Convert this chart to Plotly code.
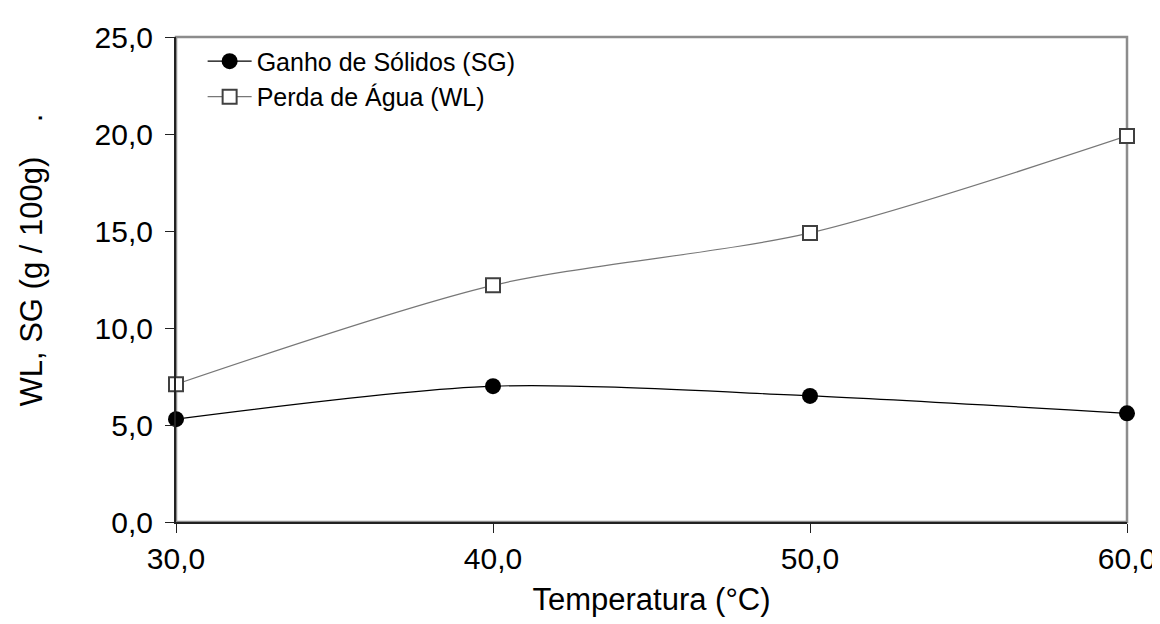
import plotly.graph_objects as go

# Temperaturas (°C) e respostas (g / 100g)
temperatura = [30, 40, 50, 60]
ganho_solidos = [5.3, 7.0, 6.5, 5.6]
perda_agua = [7.1, 12.2, 14.9, 19.9]

x_ticks = [30, 40, 50, 60]
y_ticks = [0, 5, 10, 15, 20, 25]

font_family = "Liberation Sans, Arial, sans-serif"

fig = go.Figure()

fig.add_trace(
    go.Scatter(
        x=temperatura,
        y=ganho_solidos,
        name="Ganho de Sólidos (SG)",
        legendgroup="sg",
        mode="lines+markers",
        line=dict(color="black", width=1.2, shape="spline", smoothing=0.8),
        marker=dict(symbol="circle", size=16, color="black"),
        cliponaxis=False,
    )
)
fig.add_trace(
    go.Scatter(
        x=temperatura,
        y=perda_agua,
        name="Perda de Água (WL)",
        legendgroup="wl",
        mode="lines+markers",
        line=dict(color="#777777", width=1.2, shape="spline", smoothing=0.8),
        marker=dict(
            symbol="square",
            size=14,
            color="white",
            line=dict(color="#404040", width=2),
        ),
        cliponaxis=False,
    )
)

# grey frame on top / right, dark axes on left / bottom
fig.add_shape(
    type="rect",
    xref="paper",
    yref="paper",
    x0=0,
    x1=1,
    y0=0,
    y1=1,
    line=dict(color="#8c8c8c", width=2.5),
    layer="below",
)

# y-axis title as annotation (keeps the stray dot of the original)
fig.add_annotation(
    text="WL, SG (g / 100g)" + "\u00a0" * 4 + ".",
    textangle=-90,
    xref="paper",
    yref="paper",
    x=-0.152,
    y=0.54,
    xanchor="center",
    yanchor="middle",
    showarrow=False,
    font=dict(size=31, color="black", family=font_family),
)

fig.update_xaxes(
    range=[30, 60],
    tickvals=x_ticks,
    tickformat=".1f",
    showgrid=False,
    zeroline=False,
    showline=True,
    linecolor="#222222",
    linewidth=2,
    ticks="outside",
    ticklen=9,
    tickcolor="#222222",
    tickfont=dict(size=30, color="black", family=font_family),
    title=dict(
        text="Temperatura (°C)",
        font=dict(size=31, color="black", family=font_family),
        standoff=14,
    ),
)
fig.update_yaxes(
    range=[0, 25],
    tickvals=y_ticks,
    tickformat=".1f",
    showgrid=False,
    zeroline=False,
    showline=True,
    linecolor="#222222",
    linewidth=2,
    ticks="outside",
    ticklen=9,
    tickcolor="#222222",
    ticklabelstandoff=6,
    tickfont=dict(size=30, color="black", family=font_family),
)

fig.update_layout(
    width=1160,
    height=624,
    separators=",.",
    margin=dict(l=168, r=32, t=29, b=110),
    plot_bgcolor="white",
    paper_bgcolor="white",
    font=dict(family=font_family, color="black"),
    showlegend=True,
    legend=dict(
        x=0.028,
        y=0.997,
        xanchor="left",
        yanchor="top",
        bgcolor="rgba(0,0,0,0)",
        font=dict(size=25, color="black", family=font_family),
        itemwidth=44,
        traceorder="grouped",
        tracegroupgap=0,
    ),
)

fig.write_html("out.html")
